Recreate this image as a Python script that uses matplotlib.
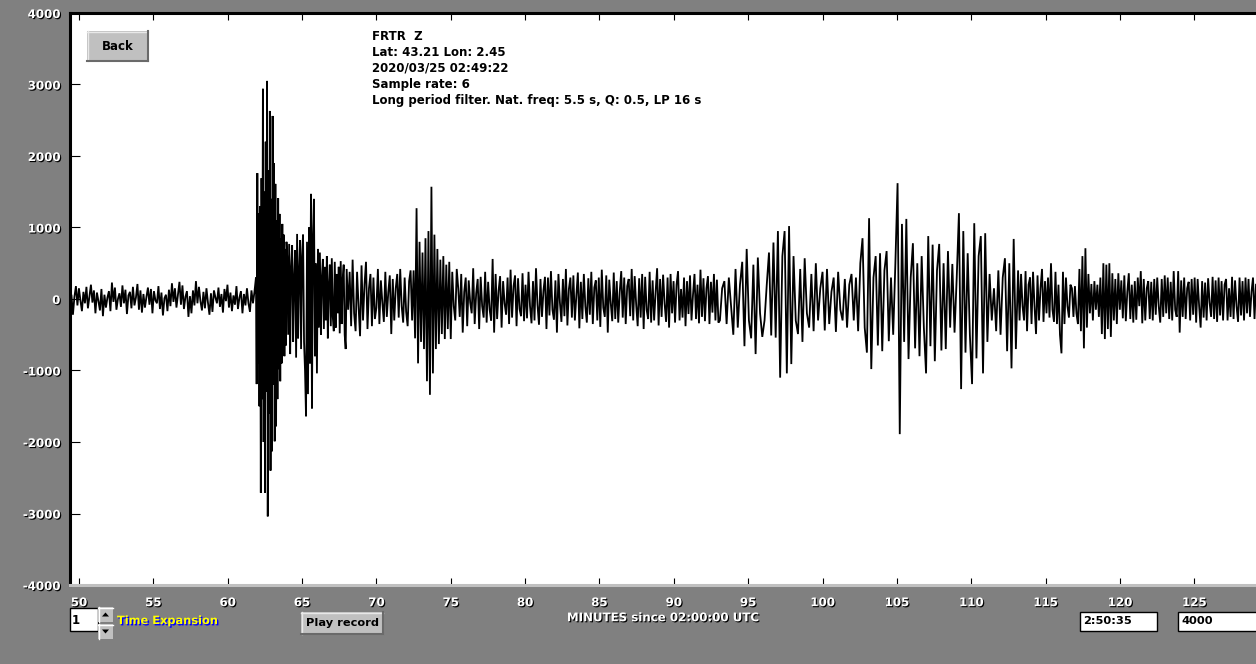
import matplotlib
matplotlib.use("Agg")
import matplotlib.pyplot as plt
import matplotlib.patheffects as pe
from matplotlib.patches import Rectangle, Polygon
import numpy as np

# ---------------- data ----------------
# segment boundaries in minutes since 02:00:00 UTC
segment_bounds = [49.39, 61.9, 64.0, 68.0, 72.5, 75.0, 93.1, 102.1, 113.15, 129.15]

pre_event = [-150, 60, -220, 30, 180, -90, 150, -20, -170, 100,
             -60, 170, -130, 40, 200, -50, 120, -200, 90, -30,
             -160, 140, -240, 60, -120, 20, 110, -170, 230, -40,
             160, -150, 0, 80, -110, 190, -60, 130, -210, 50,
             100, -130, 170, -90, 20, 210, -150, 120, -190, 70,
             -120, 30, 160, -80, 140, -200, 110, -20, -60, 180,
             -140, 90, -230, 10, 60, -170, 130, -100, 220, -40,
             150, -120, 60, 240, -80, 190, -140, 30, 110, -250,
             40, -200, 120, -90, 250, -60, 170, -30, -160, 100,
             -130, 150, -50, -220, 80, -180, 120, 20, -60, 160,
             -110, 70, -190, 140, -30, 200, -120, 90, -170, 50,
             -80, 180, -140, 20, 110, -200, 70, -90, 150, -60,
             -180, 120, -60, 100]

p_burst = [300, -1190, 1760, -900, 1200, -1500, 1300, -2710, 1690, -1400,
           2940, -2000, 1500, -2710, 2200, -1300, 3050, -3040, 1800, -1600,
           2630, -2400, 1400, -2130, 2560, -1200, 1900, -1990, 1610, -1780,
           1100, -1400, 1410, -980, 1190, -1150, 850, -900, 1050, -730,
           900, -800, 700, -650, 800]

early_coda = [600, -500, 770, -770, 450, 750, -600, 300, 680, -820,
              910, -550, 400, 820, -700, 600, 900, -600, -1000, -1640,
              800, -1330, 1000, -900, 1470, -1530, 900, 1400, -800, 500,
              -1040, 700, -400, 650, -500, 300, 560, -420, 450, -300,
              600, -550, 200, 480, -380, 570, -250, -450, 520, -400,
              350, -200, 450, -480, 530, -350, 280, 480, -500, -700]

mid_coda = [420, -150, 380, -380, 550, -200, -450, 380, -100, -520,
            470, -300, 200, 520, -420, 150, 350, -380, 300, -280,
            -120, 420, -350, 260, -50, -320, 380, -250, 100, 330,
            -490, 280, -300, 150, 350, -260, 420, -100, -330, 300,
            -180, -380, 250, 400, -300]

s_phase = [400, -550, 1270, -900, 800, -600, 650, -700, 850, -1150,
           950, -1340, 1570, -1040, 900, -700, 700, -630, 550, -490,
           600, -560, 480, -420, 520]

quiet = [-560, 380, -100, -300, 420, 150, -250, 350, -470, 100,
         300, -380, 260, -50, -200, 430, -350, 80, 280, -420,
         310, -100, -260, 380, -330, 240, -150, -300, 560, -470,
         350, -280, 120, 320, -400, 250, -60, -220, 300, -350,
         410, -260, 180, 330, -380, 290, -140, -240, 360, -310,
         200, -270, 380, -100, -340, 250, -300, 430, -80, -360,
         280, -250, 120, 310, -420, 300, -230, 390, -150, -290,
         260, -470, 350, -50, -320, 280, -240, 420, -370, 140,
         300, -260, 330, -300, 50, 370, -410, 240, -280, 350,
         -100, -330, 290, -220, 380, -350, 160, 260, -300, 300,
         -390, 410, -120, -250, 330, -470, 270, -60, -310, 370,
         -280, 250, -330, 100, 390, -260, 300, -350, 180, 280,
         -240, 420, -300, 320, -80, -380, 290, -260, 350, -420,
         310, -150, -280, 380, -330, 260, -300, 100, 430, -370,
         280, -250, 340, -60, -320, 300, -400, 350, -200, 250,
         -330, 200, 390, -300, 140, -260, 300, -380, 250, -210,
         330, -300, 60, 350, -280, 200, -340, 410, -250, 290,
         -310, 150, 320, -350, 240, -190, 350, -300, 270, -330]

love_wave = [-300, 150, 250, -350, 300, -100, -500, 420, -400, 200,
             520, -660, 700, -300, -550, 480, -770, 580, -200, -530,
             -300, 200, 650, -510, 790, -540, 950, -1100, 600, 950,
             -1040, 1020, -910, 600, -300, -490, 420, -600, 570, -200,
             -400, 350, -450, 500, -300, 150, 380, -440, 420, -350,
             100, 300, -460, 380, -150, -300, 280, -400, 200, 350]

rayleigh_wave = [-300, 300, -450, 500, 850, -400, -750, 1130, -980, 300,
                 600, -650, 640, -730, 400, 670, -590, 300, -500, 500,
                 1620, -1890, 1050, -600, 1120, -840, 300, 780, -690, 500,
                 -800, 600, -400, -1040, 880, -660, 760, -870, 400, 770,
                 -720, 500, -700, 670, -400, 490, -470, 300, 1200, -1260,
                 950, -750, 640, -500, -1190, 1060, -830, 600, 880, -1040,
                 920, -600, 350, -300, 150, -450, 400, -500, 300, 570,
                 -730, 500, -970, 840, -700]

tail = [400, -300, 350, -100, -300, 390, -450, 200, 300, -350,
        380, -100, -490, 330, -300, 150, 420, -320, 250, -200,
        300, -260, 500, -150, -320, 380, -350, 200, -500, -760,
        380, -350, 300, -100, -260, 200, 150, -250, 180, -200,
        -350, 420, -450, 600, -690, 710, -400, 350, -200, 210,
        -300, 250, -150, 200, -250, 300, -490, 500, -560, 480,
        -420, 500, -530, 360, -300, 280, -350, 360, -150, 260,
        -270, 330, -310, 100, 360, -280, 200, -330, 250, -290,
        300, -100, 390, -340, 280, -300, 150, 250, -280, 240,
        -300, 280, -220, 300, -100, -330, 280, -250, 330, -200,
        300, -280, 240, -300, 390, -150, -250, 390, -470, 260,
        -250, 300, -280, 150, 240, -300, 280, -220, 300, -330,
        280, -100, -400, 250, -260, 230, -300, 290, -50, -250,
        310, -280, 260, -320, 300, -230, 250, -300, 200, 280,
        -300, 150, -250, 310, -280, 260, -100, -320, 300, -230,
        250, -300, 300, -200, 280, -250, 100, 300, -280, 200]

x_ticks = [50, 55, 60, 65, 70, 75, 80, 85, 90, 95, 100, 105, 110, 115, 120, 125]
y_ticks = [-4000, -3000, -2000, -1000, 0, 1000, 2000, 3000, 4000]
y_tick_labels = ["-4000", "-3000", "-2000", "-1000", "0", "1000", "2000", "3000", "4000"]

info_lines = ["FRTR  Z", "Lat: 43.21 Lon: 2.45", "2020/03/25 02:49:22",
              "Sample rate: 6", "Long period filter. Nat. freq: 5.5 s, Q: 0.5, LP 16 s"]

# ---------------- build trace ----------------
segments = [pre_event, p_burst, early_coda, mid_coda, s_phase, quiet,
            love_wave, rayleigh_wave, tail]
t_parts, v_parts = [], []
for i, vals in enumerate(segments):
    a, b = segment_bounds[i], segment_bounds[i + 1]
    last = (i == len(segments) - 1)
    t_parts.append(np.linspace(a, b, len(vals), endpoint=last))
    v_parts.append(np.asarray(vals, dtype=float))
t_all = np.concatenate(t_parts)
v_all = np.concatenate(v_parts)

# ---------------- figure ----------------
W, H = 1256, 664
GRAY = "#808080"
fig = plt.figure(figsize=(W / 100, H / 100), dpi=100, facecolor=GRAY)

ax = fig.add_axes([70 / W, 1 - 585 / H, 1186 / W, 572 / H])
ax.set_facecolor("white")
ax.plot(t_all, v_all, color="black", lw=1.3, solid_joinstyle="miter")
ax.set_xlim(49.395, 129.15)
ax.set_ylim(-4000, 4000)

for side in ("left", "top"):
    ax.spines[side].set_color("black")
    ax.spines[side].set_linewidth(2.2)
ax.spines["bottom"].set_color("#c0c0c0")
ax.spines["bottom"].set_linewidth(2.2)
ax.spines["right"].set_visible(False)

shadow = [pe.SimplePatchShadow(offset=(0.8, -0.8), shadow_rgbFace="black", alpha=1.0),
          pe.Normal()]

ax.set_xticks(x_ticks)
ax.set_xticklabels([str(v) for v in x_ticks])
ax.set_yticks(y_ticks)
ax.set_yticklabels(y_tick_labels)
ax.tick_params(axis="x", direction="in", length=5, width=0.8, color="black",
               top=True, pad=8, labelsize=8.5, labelcolor="white")
ax.tick_params(axis="y", direction="in", length=7, width=0.8, color="black",
               pad=7, labelsize=8.5, labelcolor="white")
for lab in ax.get_xticklabels() + ax.get_yticklabels():
    lab.set_fontweight("bold")
    lab.set_family("DejaVu Sans")
    lab.set_path_effects(shadow)

ax.set_xlabel("MINUTES since 02:00:00 UTC", color="white", fontsize=8.5,
              fontweight="bold", labelpad=1.5, path_effects=shadow)

# ---------------- overlay (pixel coordinates) ----------------
ov = fig.add_axes([0, 0, 1, 1], zorder=5)
ov.set_xlim(0, W)
ov.set_ylim(H, 0)
ov.axis("off")
ov.patch.set_alpha(0)

# info text
for i, line in enumerate(info_lines):
    ov.text(372, 39.5 + 16.2 * i, line, fontsize=8.5, fontweight="bold",
            color="black", ha="left", va="baseline")

def button(x0, y0, x1, y1, label, fs):
    ov.add_patch(Rectangle((x0, y0), x1 - x0, y1 - y0, facecolor="#c0c0c0",
                           edgecolor="none"))
    ov.plot([x0, x1], [y0 + 0.5, y0 + 0.5], color="#e8e8e8", lw=1)
    ov.plot([x0 + 0.5, x0 + 0.5], [y0, y1], color="#e8e8e8", lw=1)
    ov.plot([x0, x1], [y1 - 0.5, y1 - 0.5], color="#6a6a6a", lw=1.5)
    ov.plot([x1 - 0.5, x1 - 0.5], [y0, y1], color="#6a6a6a", lw=1.5)
    ov.text((x0 + x1) / 2, (y0 + y1) / 2, label, fontsize=fs, fontweight="bold",
            color="black", ha="center", va="center")

button(87, 31, 148, 61, "Back", 8.5)
button(301, 612, 383, 634, "Play record", 8.2)

# spin box
ov.add_patch(Rectangle((70, 608), 28, 23, facecolor="white", edgecolor="black", lw=1))
ov.text(72, 620, "1", fontsize=8.5, fontweight="bold", color="black", ha="left", va="center")
for (y0, y1, up) in ((607, 622, True), (624, 639, False)):
    ov.add_patch(Rectangle((98, y0), 15, y1 - y0, facecolor="#c0c0c0", edgecolor="none"))
    ov.plot([98, 113], [y0 + 0.5, y0 + 0.5], color="white", lw=1)
    ov.plot([98.5, 98.5], [y0, y1], color="white", lw=1)
    cx, cy = 105.5, (y0 + y1) / 2
    if up:
        tri = [(cx - 3.5, cy + 2), (cx + 3.5, cy + 2), (cx, cy - 2)]
    else:
        tri = [(cx - 3.5, cy - 2), (cx + 3.5, cy - 2), (cx, cy + 2)]
    ov.add_patch(Polygon(tri, closed=True, facecolor="black", edgecolor="none"))

ov.text(117, 621, "Time Expansion", fontsize=8.2, fontweight="bold", color="#ffff00",
        ha="left", va="center",
        path_effects=[pe.SimplePatchShadow(offset=(1.0, -1.0), shadow_rgbFace="#0000ff",
                                           alpha=1.0), pe.Normal()])

# right-hand boxes
ov.add_patch(Rectangle((1080, 612), 77, 19, facecolor="white", edgecolor="black", lw=1))
ov.text(1083, 621.5, "2:50:35", fontsize=8.2, fontweight="bold", color="black",
        ha="left", va="center")
ov.add_patch(Rectangle((1178, 612), 90, 19, facecolor="white", edgecolor="black", lw=1))
ov.text(1181, 621.5, "4000", fontsize=8.2, fontweight="bold", color="black",
        ha="left", va="center")

fig.savefig("out.png", dpi=100, facecolor=GRAY)
